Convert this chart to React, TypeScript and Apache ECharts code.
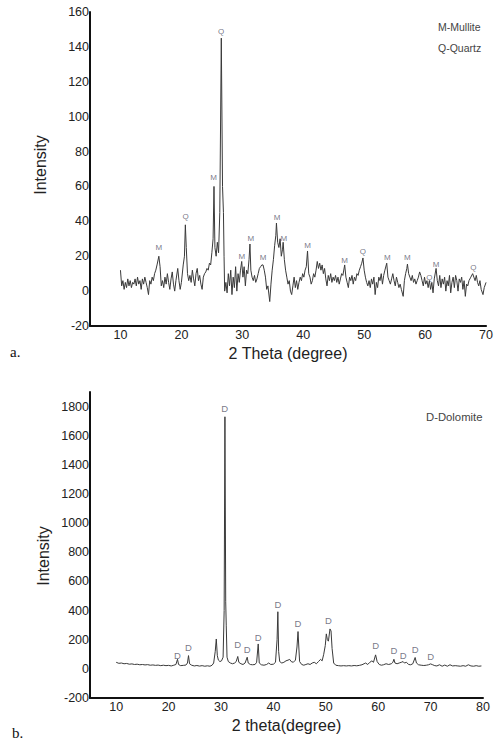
import React, { useEffect, useRef } from "react";
import * as echarts from "echarts";

// ---------- Chart a: Mullite / Quartz ----------
const xrdA: [number, number][] = [
  [10.0, 12], [10.2, 3], [10.4, 6], [10.6, 1], [10.8, 5], [11.0, 2], [11.2, 7], [11.4, 3],
  [11.6, 6], [11.8, 2], [12.0, 5], [12.2, 4], [12.4, 7], [12.6, 3], [12.8, 8], [13.0, 4],
  [13.2, 6], [13.4, 1], [13.6, 7], [13.8, 4], [14.0, 8], [14.2, 5], [14.4, 2], [14.6, -2],
  [14.8, 6], [15.0, 4], [15.2, 8], [15.4, 6], [15.6, 10], [15.8, 12], [16.0, 15], [16.3, 20],
  [16.5, 14], [16.7, 3], [16.9, 6], [17.1, 2], [17.3, 8], [17.5, 4], [17.7, 10], [17.9, 5],
  [18.1, 1], [18.3, 7], [18.5, 11], [18.7, 4], [18.9, 0], [19.1, 6], [19.4, 13], [19.6, 6],
  [19.8, 1], [20.0, 5], [20.3, 15], [20.5, 20], [20.65, 38], [20.8, 25], [21.0, 10], [21.2, 6],
  [21.4, 9], [21.6, 5], [21.8, 12], [22.0, 7], [22.2, 3], [22.4, 10], [22.6, 13], [22.8, 6],
  [23.0, 9], [23.2, 4], [23.4, 1], [23.6, 8], [23.8, 10], [24.0, 11], [24.2, 13], [24.4, 12],
  [24.6, 16], [24.8, 15], [25.0, 22], [25.2, 30], [25.35, 60], [25.5, 25], [25.7, 20], [25.9, 28],
  [26.1, 22], [26.3, 45], [26.55, 145], [26.75, 60], [26.9, 45], [27.0, 20], [27.1, 0], [27.3, 5],
  [27.5, -1], [27.7, 10], [27.9, 3], [28.1, 12], [28.3, -2], [28.5, 8], [28.7, 2], [28.9, 14],
  [29.1, 0], [29.3, 10], [29.5, 5], [29.7, 12], [29.9, 17], [30.1, 8], [30.3, 14], [30.5, 3],
  [30.7, 12], [30.9, 10], [31.1, 18], [31.25, 27], [31.4, 12], [31.6, 8], [31.8, 6], [32.0, 9],
  [32.2, 5], [32.4, 7], [32.6, 10], [32.8, 13], [33.0, 14], [33.2, 15], [33.4, 15], [33.6, 12],
  [33.8, 8], [34.0, 1], [34.2, 3], [34.5, -6], [34.7, 4], [34.9, 12], [35.1, 18], [35.3, 26],
  [35.5, 32], [35.6, 39], [35.8, 28], [36.0, 25], [36.2, 30], [36.4, 20], [36.6, 24], [36.7, 28],
  [36.9, 18], [37.1, 12], [37.3, 8], [37.5, 4], [37.7, 6], [37.9, 0], [38.1, -2], [38.3, 3],
  [38.5, 8], [38.7, 2], [38.9, 6], [39.1, 1], [39.3, 5], [39.5, 8], [39.7, 6], [39.9, 10],
  [40.1, 8], [40.3, 12], [40.5, 14], [40.7, 23], [40.9, 10], [41.1, 8], [41.3, 4], [41.5, 6],
  [41.7, 10], [41.9, 8], [42.1, 12], [42.3, 17], [42.5, 13], [42.7, 16], [42.9, 12], [43.1, 15],
  [43.3, 10], [43.5, 13], [43.7, 7], [43.9, 3], [44.1, 9], [44.3, 6], [44.5, 10], [44.7, 5],
  [44.9, 8], [45.1, 6], [45.3, 9], [45.5, 5], [45.7, 8], [45.9, 4], [46.1, 7], [46.3, 10],
  [46.5, 9], [46.8, 15], [47.0, 8], [47.2, 5], [47.4, 2], [47.6, 8], [47.8, 6], [48.0, 9],
  [48.2, 4], [48.4, 8], [48.6, 6], [48.8, 10], [49.0, 9], [49.2, 12], [49.4, 14], [49.6, 16],
  [49.8, 19], [50.0, 12], [50.2, 8], [50.4, 5], [50.6, 3], [50.8, 6], [51.0, 2], [51.2, 7],
  [51.4, 4], [51.6, 8], [51.8, -2], [52.0, 5], [52.2, 2], [52.4, 8], [52.6, 6], [52.8, 10],
  [53.0, 4], [53.2, 9], [53.4, 12], [53.7, 16], [53.9, 8], [54.1, 6], [54.3, 4], [54.5, 7],
  [54.7, 10], [54.9, 6], [55.1, 3], [55.3, 8], [55.5, 5], [55.7, 2], [55.9, 4], [56.1, 1],
  [56.4, -3], [56.6, 6], [56.8, 10], [57.0, 13], [57.1, 15.5], [57.3, 10], [57.5, 8], [57.7, 6],
  [57.9, 9], [58.1, 5], [58.3, 7], [58.5, 4], [58.7, 6], [58.9, 8], [59.1, 11], [59.3, 9],
  [59.5, 6], [59.7, 3], [59.9, 8], [60.1, 4], [60.3, 6], [60.5, 2], [60.7, 6], [60.9, 1],
  [61.1, 5], [61.3, -1], [61.5, 7], [61.8, 13], [62.0, 6], [62.2, 3], [62.4, 9], [62.6, 2],
  [62.8, 7], [63.0, 4], [63.2, 8], [63.4, 0], [63.6, 6], [63.8, 3], [64.0, 9], [64.2, -1],
  [64.4, 5], [64.6, 8], [64.8, 2], [65.0, 9], [65.2, 6], [65.4, 0], [65.6, 7], [65.8, 5],
  [66.0, 8], [66.2, 1], [66.4, 6], [66.6, -3], [66.8, 4], [67.0, 3], [67.2, 6], [67.5, 8],
  [67.8, 10], [68.0, 8], [68.2, 6], [68.4, 9], [68.6, 5], [68.8, 3], [69.0, 6], [69.2, 1],
  [69.5, -2], [69.7, 2], [70.0, 5],
];

const peakLabelsA: [number, number, string][] = [
  [16.3, 25, "M"], [20.7, 42.6, "Q"], [25.3, 65, "M"], [26.5, 149, "Q"], [29.9, 20, "M"],
  [31.4, 30, "M"], [33.4, 19, "M"], [35.7, 42, "M"], [36.8, 30, "M"], [40.7, 26, "M"],
  [46.8, 17.8, "M"], [49.8, 22.5, "Q"], [53.8, 19.3, "M"], [57.1, 19, "M"], [60.7, 8, "Q"],
  [61.8, 15.3, "M"], [67.9, 13.6, "Q"],
];

const yTicksA = { min: -20, max: 160, interval: 20 };
const xTicksA = { min: 5, max: 70, interval: 5 };
const legendA = ["M-Mullite", "Q-Quartz"];

// ---------- Chart b: Dolomite ----------
const xrdB: [number, number][] = [
  [10.0, 45], [10.5, 38], [11.0, 40], [11.5, 35], [12.0, 37], [12.5, 32], [13.0, 34], [13.5, 30],
  [14.0, 32], [14.5, 28], [15.0, 30], [15.5, 27], [16.0, 29], [16.5, 25], [17.0, 27], [17.5, 24],
  [18.0, 26], [18.5, 22], [19.0, 25], [19.5, 22], [20.0, 24], [20.5, 20], [21.0, 25], [21.4, 30],
  [21.7, 66], [21.9, 30], [22.3, 22], [22.8, 24], [23.3, 26], [23.6, 40], [23.8, 91], [24.0, 35],
  [24.4, 25], [24.9, 20], [25.4, 23], [25.9, 19], [26.4, 22], [26.9, 18], [27.4, 21], [27.9, 18],
  [28.3, 25], [28.6, 40], [28.9, 120], [29.1, 205], [29.3, 90], [29.5, 60], [29.8, 50], [30.1, 55],
  [30.4, 80], [30.6, 400], [30.75, 1730], [30.9, 460], [31.0, 300], [31.15, 80], [31.4, 50], [31.8, 40],
  [32.2, 35], [32.6, 40], [32.9, 50], [33.2, 85], [33.4, 45], [33.8, 35], [34.2, 30], [34.6, 40],
  [35.0, 80], [35.2, 40], [35.6, 30], [36.0, 28], [36.5, 30], [36.8, 45], [37.1, 171], [37.3, 40],
  [37.7, 28], [38.2, 25], [38.7, 30], [39.1, 40], [39.5, 30], [40.0, 32], [40.4, 45], [40.7, 200],
  [40.85, 392], [41.0, 120], [41.2, 50], [41.6, 40], [42.0, 45], [42.4, 55], [42.8, 60], [43.1, 65],
  [43.4, 50], [43.8, 45], [44.2, 60], [44.5, 150], [44.7, 256], [44.85, 150], [45.0, 50], [45.4, 30],
  [45.8, 25], [46.2, 30], [46.6, 35], [47.0, 30], [47.4, 40], [47.8, 45], [48.2, 35], [48.6, 50],
  [49.0, 65], [49.3, 55], [49.6, 100], [49.9, 160], [50.1, 240], [50.3, 200], [50.5, 190], [50.8, 274],
  [51.0, 260], [51.2, 140], [51.5, 40], [51.9, 25], [52.4, 22], [52.9, 20], [53.4, 22], [53.9, 20],
  [54.4, 22], [54.9, 20], [55.4, 23], [55.9, 21], [56.4, 24], [56.9, 28], [57.3, 35], [57.6, 40],
  [58.0, 30], [58.4, 45], [58.8, 55], [59.1, 45], [59.5, 96], [59.8, 50], [60.2, 30], [60.6, 25],
  [61.0, 28], [61.5, 35], [62.0, 30], [62.5, 35], [62.8, 45], [63.0, 66], [63.2, 40], [63.6, 35],
  [64.0, 40], [64.4, 45], [64.75, 50], [65.0, 40], [65.4, 45], [65.8, 30], [66.2, 28], [66.6, 35],
  [67.05, 78], [67.3, 40], [67.7, 28], [68.2, 25], [68.7, 23], [69.2, 25], [69.6, 28], [70.0, 34],
  [70.4, 28], [70.8, 22], [71.2, 20], [71.7, 28], [72.2, 18], [72.7, 26], [73.2, 18], [73.7, 28],
  [74.2, 20], [74.7, 22], [75.2, 20], [75.7, 18], [76.2, 22], [76.7, 18], [77.2, 28], [77.7, 20],
  [78.2, 18], [78.7, 22], [79.2, 18], [79.7, 20],
];

const peakLabelsB: [number, number, string][] = [
  [21.7, 95, "D"], [23.8, 148, "D"], [30.7, 1786, "D"], [33.2, 164, "D"], [35.0, 135, "D"],
  [37.1, 217, "D"], [40.85, 443, "D"], [44.7, 313, "D"], [50.5, 331, "D"], [59.5, 157, "D"],
  [63.0, 123, "D"], [64.75, 91, "D"], [67.05, 135, "D"], [70.0, 85, "D"],
];

const yTicksB = { min: -200, max: 1900, interval: 200 };
const xTicksB = { min: 5, max: 80, interval: 5 };
const legendB = ["D-Dolomite"];

const FONT = "'Liberation Sans', Arial, sans-serif";
const LINE_COLOR = "#3a3a3a";
const LABEL_COLOR = "#55556a";

function xAxisCfg(idx: number, t: { min: number; max: number; interval: number }, name: string) {
  return {
    type: "value",
    gridIndex: idx,
    min: t.min,
    max: t.max,
    interval: t.interval,
    name,
    nameLocation: "middle",
    nameGap: 19,
    nameTextStyle: { fontFamily: FONT, fontSize: 16, color: "#222" },
    axisLine: { show: true, onZero: false, lineStyle: { color: "#111", width: 2 } },
    axisTick: { show: false },
    splitLine: { show: false },
    axisLabel: {
      fontFamily: FONT,
      fontSize: 12.5,
      color: "#222",
      margin: 2,
      formatter: (v: number) => (v % 10 === 0 ? String(v) : ""),
    },
  };
}

function yAxisCfg(idx: number, t: { min: number; max: number; interval: number }, showMax: boolean) {
  return {
    type: "value",
    gridIndex: idx,
    min: t.min,
    max: t.max,
    interval: t.interval,
    axisLine: { show: true, lineStyle: { color: "#111", width: 2 } },
    axisTick: { show: false },
    splitLine: { show: false },
    axisLabel: {
      fontFamily: FONT,
      fontSize: 12.5,
      color: "#222",
      margin: 1,
      showMaxLabel: showMax,
      formatter: (v: number) => String(v),
    },
  };
}

function labelSeries(idx: number, data: [number, number, string][], size: number) {
  return {
    type: "scatter",
    xAxisIndex: idx,
    yAxisIndex: idx,
    data,
    symbolSize: 1,
    itemStyle: { color: "rgba(0,0,0,0)" },
    silent: true,
    encode: { x: 0, y: 1 },
    label: {
      show: true,
      position: "inside",
      fontFamily: FONT,
      fontSize: size,
      color: LABEL_COLOR,
      formatter: (p: any) => p.value[2],
    },
    z: 5,
  };
}

export default function App() {
  const ref = useRef<HTMLDivElement>(null);

  useEffect(() => {
    if (!ref.current) return;
    const chart = echarts.init(ref.current, null, { renderer: "svg" });
    chart.setOption({
      animation: false,
      backgroundColor: "#fff",
      grid: [
        { left: 90, top: 12, width: 400, height: 314 },
        { left: 90, top: 392, width: 393, height: 306 },
      ],
      xAxis: [xAxisCfg(0, xTicksA, "2 Theta (degree)"), xAxisCfg(1, xTicksB, "2 theta(degree)")],
      yAxis: [yAxisCfg(0, yTicksA, true), yAxisCfg(1, yTicksB, false)],
      series: [
        {
          type: "line",
          xAxisIndex: 0,
          yAxisIndex: 0,
          data: xrdA,
          showSymbol: false,
          symbol: "none",
          lineStyle: { color: LINE_COLOR, width: 1 },
          silent: true,
        },
        labelSeries(0, peakLabelsA, 8),
        {
          type: "line",
          xAxisIndex: 1,
          yAxisIndex: 1,
          data: xrdB,
          showSymbol: false,
          symbol: "none",
          lineStyle: { color: LINE_COLOR, width: 1 },
          silent: true,
        },
        labelSeries(1, peakLabelsB, 9.5),
      ],
      graphic: [
        {
          type: "text",
          x: 40,
          y: 165,
          rotation: Math.PI / 2,
          style: { text: "Intensity", fontFamily: FONT, fontSize: 16, fill: "#222", textAlign: "center", textVerticalAlign: "middle" },
        },
        {
          type: "text",
          x: 43,
          y: 556,
          rotation: Math.PI / 2,
          style: { text: "Intensity", fontFamily: FONT, fontSize: 16, fill: "#222", textAlign: "center", textVerticalAlign: "middle" },
        },
        {
          type: "text",
          x: 438,
          y: 27,
          style: { text: legendA[0], fontFamily: FONT, fontSize: 10.5, fill: "#444", textAlign: "left", textVerticalAlign: "middle" },
        },
        {
          type: "text",
          x: 438,
          y: 48,
          style: { text: legendA[1], fontFamily: FONT, fontSize: 10.5, fill: "#444", textAlign: "left", textVerticalAlign: "middle" },
        },
        {
          type: "text",
          x: 426,
          y: 417,
          style: { text: legendB[0], fontFamily: FONT, fontSize: 11.3, fill: "#444", textAlign: "left", textVerticalAlign: "middle" },
        },
        {
          type: "text",
          x: 10,
          y: 352,
          style: { text: "a.", fontFamily: "'Liberation Serif', 'Times New Roman', serif", fontSize: 15, fill: "#111", textAlign: "left", textVerticalAlign: "middle" },
        },
        {
          type: "text",
          x: 12,
          y: 733,
          style: { text: "b.", fontFamily: "'Liberation Serif', 'Times New Roman', serif", fontSize: 15, fill: "#111", textAlign: "left", textVerticalAlign: "middle" },
        },
      ],
    });
    return () => chart.dispose();
  }, []);

  return (
    <div
      ref={ref}
      style={{ position: "absolute", left: 0, top: 0, width: 496, height: 740, background: "#fff" }}
    />
  );
}
